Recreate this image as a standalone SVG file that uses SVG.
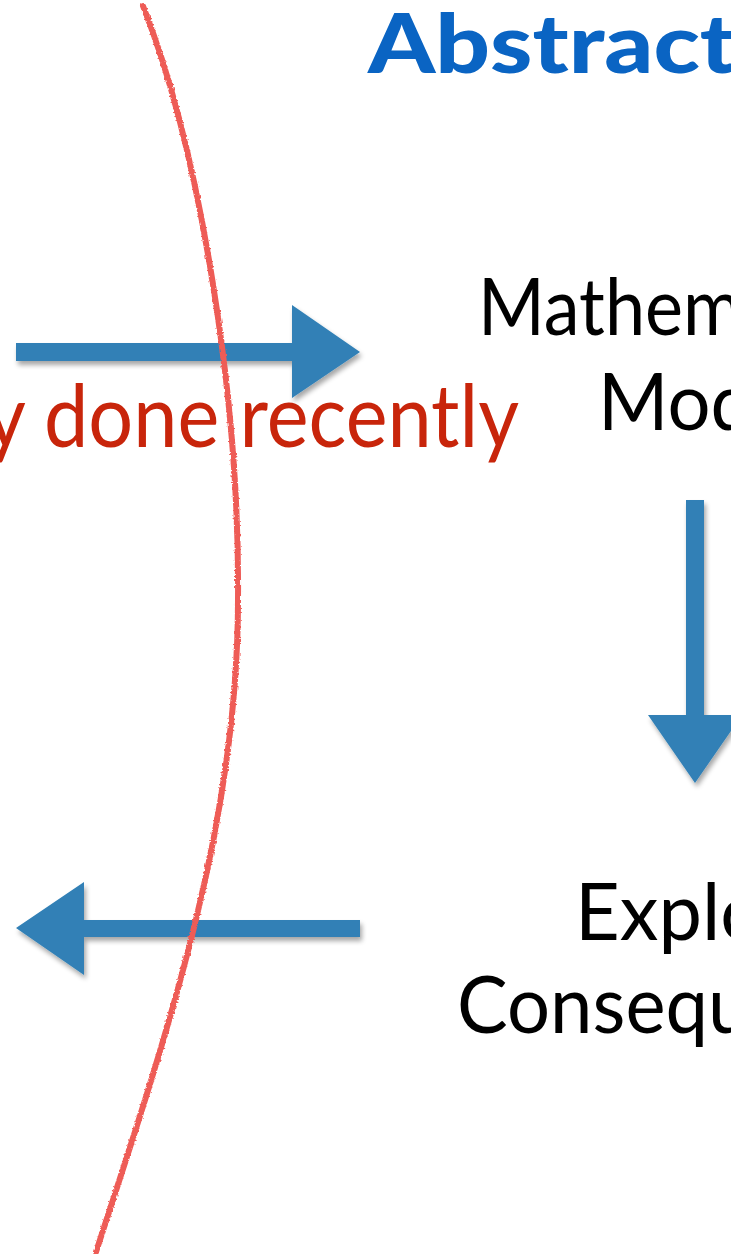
<svg xmlns="http://www.w3.org/2000/svg" width="731" height="1254" viewBox="0 0 731 1254">
<defs>
<style>
.txt{font-family:Lato,"Open Sans","Liberation Sans",sans-serif;}
.title{font-weight:900;font-size:82px;fill:#0a64c3;}
.node{font-size:80px;fill:#000;}
.note{font-size:88px;fill:#c8250b;}
.arrow{fill:#3180b6;filter:url(#shadow);}
</style>
<filter id="shadow" x="-10%" y="-10%" width="130%" height="130%">
<feGaussianBlur in="SourceAlpha" stdDeviation="2.5"/>
<feOffset dx="2" dy="4" result="b"/>
<feComponentTransfer><feFuncA type="linear" slope="0.35"/></feComponentTransfer>
<feMerge><feMergeNode/><feMergeNode in="SourceGraphic"/></feMerge>
</filter>
<filter id="rough" x="-20%" y="-5%" width="140%" height="110%">
<feTurbulence type="fractalNoise" baseFrequency="0.5" numOctaves="2" seed="3" result="n"/>
<feDisplacementMap in="SourceGraphic" in2="n" scale="3" xChannelSelector="R" yChannelSelector="G"/>
</filter>
</defs>
<rect width="731" height="1254" fill="#fff"/>

<g id="title"><text class="txt title" transform="translate(368,73) scale(1.17,1)" x="0" y="0">Abstract</text></g>

<g id="node-model">
<text class="txt node" transform="translate(478,335) scale(0.9,1)" x="0" y="0">Mathematical</text>
<text class="txt node" transform="translate(598,430) scale(0.95,1)" x="0" y="0">Model</text>
</g>

<g id="node-explore">
<text class="txt node" transform="translate(575,940) scale(0.97,1)" x="0" y="0">Exploring</text>
<text class="txt node" transform="translate(457,1033) scale(0.95,1)" x="0" y="0">Consequences</text>
</g>

<g id="label-recent"><text class="txt note" transform="translate(519,447) scale(0.9,1)" x="0" y="0" text-anchor="end">y done recently</text></g>

<g id="connectors">
<path class="arrow" d="M16,343 H292 V305 L360,352 L292,398 V361 H16 Z"/>
<path class="arrow" d="M686,500 H704 V715 H742 L695,783 L648,715 H686 Z"/>
<path class="arrow" d="M360,920 H84 V882 L16,928 L84,975 V937 H360 Z"/>
</g>

<g id="boundary">
<path d="M143,6 C200,150 240,400 238,600 C238,820 172,1020 96,1252" fill="none" stroke="#ee5b56" stroke-width="6" stroke-linecap="round" filter="url(#rough)"/>
</g>
</svg>
